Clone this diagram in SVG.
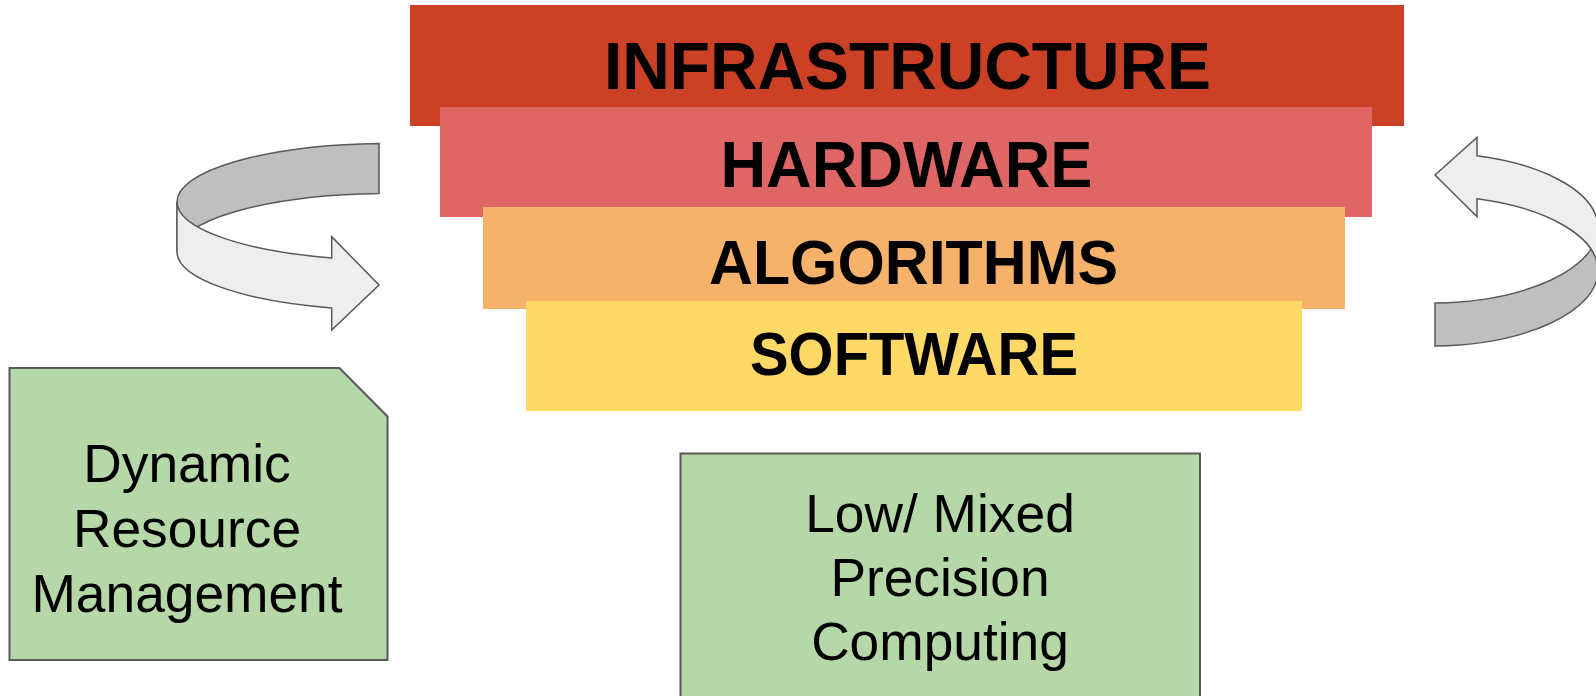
<svg xmlns="http://www.w3.org/2000/svg" width="1596" height="696" viewBox="0 0 1596 696">
  <style>
    .layer-text { font-family: "Liberation Sans", Arial, sans-serif; font-weight: bold; fill: #000000; text-anchor: middle; }
    .box-text { font-family: "Liberation Sans", Arial, sans-serif; font-size: 53.3px; fill: #000000; text-anchor: middle; }
    .green { fill: #b6d7a8; stroke: #595959; stroke-width: 2; }
    .arrow-dark { fill: #bfbfbf; stroke: #595959; stroke-width: 1.5; stroke-linejoin: miter; }
    .arrow-light { fill: #eeeeee; stroke: #595959; stroke-width: 1.5; stroke-linejoin: miter; }
  </style>
  <rect x="0" y="0" width="1596" height="696" fill="#ffffff"/>

  <g id="infrastructure">
    <rect x="410" y="5" width="994" height="121" fill="#cc4125"/>
    <text class="layer-text" x="907.5" y="88.5" font-size="67" textLength="607" lengthAdjust="spacingAndGlyphs">INFRASTRUCTURE</text>
  </g>
  <g id="hardware">
    <rect x="440" y="107" width="932" height="110" fill="#e06666"/>
    <text class="layer-text" x="906.5" y="186.5" font-size="64" textLength="372" lengthAdjust="spacingAndGlyphs">HARDWARE</text>
  </g>
  <g id="algorithms">
    <rect x="483" y="207" width="862" height="102" fill="#f6b26b"/>
    <text class="layer-text" x="913.5" y="284" font-size="63" textLength="409" lengthAdjust="spacingAndGlyphs">ALGORITHMS</text>
  </g>
  <g id="software">
    <rect x="526" y="301" width="776" height="110" fill="#ffd966"/>
    <text class="layer-text" x="914" y="375" font-size="62" textLength="328" lengthAdjust="spacingAndGlyphs">SOFTWARE</text>
  </g>

  <g id="dynamic-resource-management">
    <path class="green" d="M 9.5 368 L 339.5 368 L 387.5 416.5 L 387.5 660 L 9.5 660 Z"/>
    <text class="box-text" x="187" y="482">Dynamic</text>
    <text class="box-text" x="187" y="547">Resource</text>
    <text class="box-text" x="187" y="612">Management</text>
  </g>

  <g id="low-mixed-precision-computing">
    <rect class="green" x="680.5" y="453.5" width="519.5" height="260"/>
    <text class="box-text" x="940" y="532">Low/ Mixed</text>
    <text class="box-text" x="940" y="596">Precision</text>
    <text class="box-text" x="940" y="660">Computing</text>
  </g>

  <g id="connectors">
    <g id="cycle-arrow-left">
      <path class="arrow-dark" d="M 379 143.38 A 213 58.4 0 0 0 177 201.7 L 177 251.7 A 213 58.4 0 0 1 379 193.38 Z"/>
      <path class="arrow-light" d="M 177 201.7 A 213 58.4 0 0 0 331.7 257.9 L 331.7 236.7 L 379 285 L 331.7 330 L 331.7 307.9 A 213 58.4 0 0 1 177 251.7 Z"/>
    </g>
    <g id="cycle-arrow-right">
      <path class="arrow-dark" d="M 1435 302.97 A 168 75.15 0 0 0 1598 227.85 L 1598 270.85 A 168 75.15 0 0 1 1435 345.97 Z"/>
      <path class="arrow-light" d="M 1477 155.7 A 168 75.15 0 0 1 1598 227.85 L 1598 270.85 A 168 75.15 0 0 0 1477 198.7 L 1477 216.8 L 1435 175 L 1477 137.4 Z"/>
    </g>
  </g>
</svg>
